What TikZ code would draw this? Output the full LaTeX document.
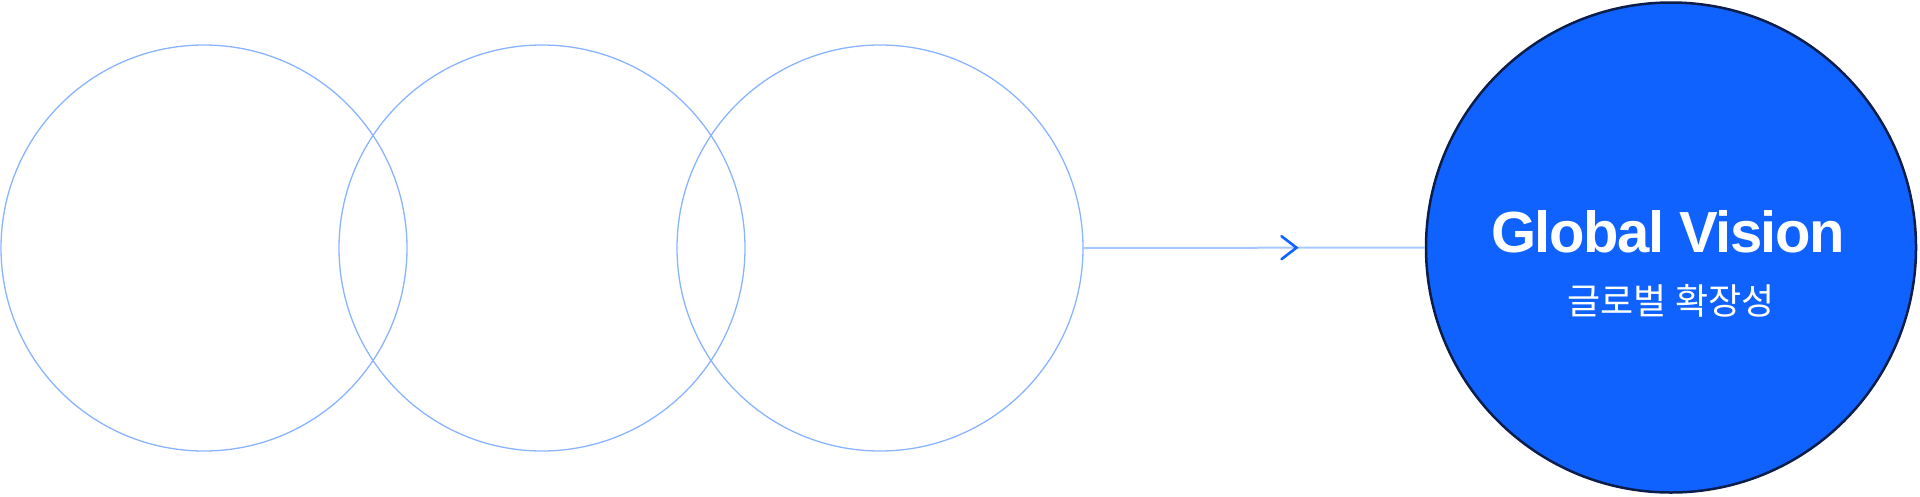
\documentclass[tikz,border=0pt]{standalone}
\usepackage{fontspec}
\setmainfont{Liberation Sans}
\newfontfamily\titlefont[LetterSpace=-2.5]{Liberation Sans Bold}
\newfontfamily\kr{Noto Sans CJK KR}
\usetikzlibrary{calc}
\definecolor{ringblue}{HTML}{8AB4FF}
\definecolor{linkblue}{HTML}{A6C8FF}
\definecolor{mainblue}{HTML}{0F62FE}
\definecolor{navy}{HTML}{0B1D4A}
\tikzset{
  ring/.style={circle, draw=ringblue, line width=1.3pt, inner sep=0pt, minimum size=406pt},
  goal/.style={circle, draw=navy, fill=mainblue, line width=2.5pt, inner sep=0pt, minimum size=490pt},
  link/.style={draw=linkblue, line width=2pt},
  chev/.style={draw=mainblue, line width=2.6pt, line cap=round, line join=miter},
  title/.style={text=white, font=\titlefont\fontsize{58}{60}\selectfont, anchor=base, inner sep=0pt},
  subtitle/.style={text=white, font=\kr\fontsize{36}{38}\selectfont, anchor=base, inner sep=0pt}
}
\begin{document}
\begin{tikzpicture}[x=1pt, y=-1pt]
\useasboundingbox (0,0) rectangle (1920,496);
\node[ring] (c1) at (204,248) {};
\node[ring] (c2) at (542,248) {};
\node[ring] (c3) at (880,248) {};
\node[goal] (big) at (1671,247.5) {};
\draw[link] (c3.east) -- (big.west);
\coordinate (tip) at ($(c3.east)!0.624!(big.west)$);
\draw[chev] ([xshift=-15pt,yshift=11.5pt]tip) -- (tip) -- ([xshift=-15pt,yshift=-11.5pt]tip);
\node[title] (t1) at (1668,252) {Global Vision};
\node[subtitle] (t2) at (1671,314) {글로벌 확장성};
\end{tikzpicture}
\end{document}
